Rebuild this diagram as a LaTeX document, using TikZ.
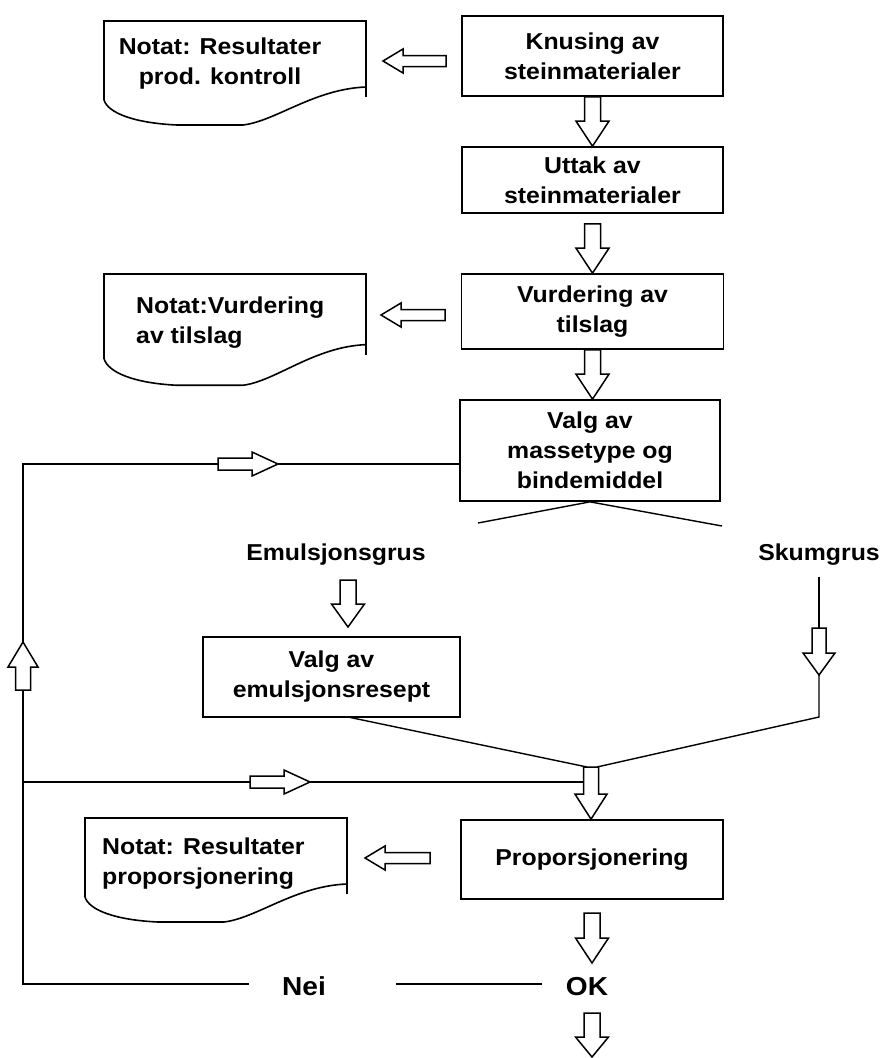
\documentclass[tikz,border=0pt]{standalone}
\usepackage{fontspec}
\setmainfont{Liberation Sans}[FakeStretch=1.08]
\usetikzlibrary{calc}
\newcommand\boxfont{\fontsize{23}{30}\selectfont\bfseries}
\newcommand\bigfont{\fontsize{26}{30}\selectfont\bfseries}
\tikzset{
  box/.style={draw, line width=1.7pt, align=center, inner sep=0pt, font=\boxfont},
  lbl/.style={inner sep=0pt, font=\boxfont},
  big/.style={inner sep=0pt, font=\bigfont},
  ln/.style={line width=1.4pt},
  blk/.style={draw, fill=white, line width=1.5pt, line join=miter},
  doc/.style={line width=1.6pt},
}
% block arrow: #1 tail, #2 tip, #3 shaft half width, #4 head half width, #5 head length
\newcommand\blockarrow[5]{%
  \draw[blk] ($(#1)!#3!90:(#2)$) -- ($($(#2)!#5!(#1)$)!#3!90:(#2)$) -- ($($(#2)!#5!(#1)$)!#4!90:(#2)$) -- (#2)
    -- ($($(#2)!#5!(#1)$)!#4!-90:(#2)$) -- ($($(#2)!#5!(#1)$)!#3!-90:(#2)$) -- ($(#1)!#3!-90:(#2)$) -- cycle;}
% note (document) shape: #1 x, #2 y of top-left, #3 yscale
\newcommand\notatshape[3]{%
  \begin{scope}[shift={(#1,#2)}, yscale=#3]
    \draw[doc] (0,79) -- (0,0) -- (262,0) -- (262,76);
    \draw[doc] (0,79) .. controls (4,92) and (30,102) .. (73,104) -- (139,104)
      .. controls (172,100) and (210,68) .. (262,66);
  \end{scope}}
\begin{document}
\begin{tikzpicture}[x=1pt, y=-1pt]
\useasboundingbox (0,0) rectangle (883,1058);

% process boxes
\node[box, minimum width=261pt, minimum height=80pt] (b1) at (592.5,56) {Knusing av\\steinmaterialer};
\node[box, minimum width=261pt, minimum height=66pt] (b2) at (592.5,180) {Uttak av\\steinmaterialer};
\node[box, minimum width=262pt, minimum height=75pt] (b3) at (592.5,311.5) {Vurdering av\\tilslag};
\node[box, minimum width=260pt, minimum height=101pt] (b4) at (590,450.5) {Valg av\\massetype og\\bindemiddel};
\node[box, minimum width=257pt, minimum height=80pt] (b5) at (331.5,677) {Valg av\\emulsjonsresept};
\node[box, minimum width=262pt, minimum height=79pt] (b6) at (592,859.5) {Proporsjonering};

% notes
\notatshape{104}{21}{1}
\notatshape{104}{274}{1.07}
\notatshape{85}{818}{1.0}
\node[lbl, align=center] (n1) at (220,64) {Notat: Resultater\\prod. kontroll};
\node[lbl, align=left, anchor=west] (n2) at (136,323) {Notat:Vurdering\\av tilslag};
\node[lbl, align=left, anchor=west] (n3) at (102,864) {Notat: Resultater\\proporsjonering};

% labels
\node[lbl] (emu) at (336,555) {Emulsjonsgrus};
\node[lbl] (skum) at (819,555) {Skumgrus};
\node[big] (nei) at (304,986) {Nei};
\node[big] (ok) at (587,987) {OK};

% coordinates
\coordinate (vl) at (478,523);
\coordinate (vr) at (722,526);
\coordinate (top) at (23,464);
\coordinate (cor) at (23,984);
\coordinate (mid) at (23,782);
\coordinate (midend) at (583,782);
\coordinate (neiL) at (249,984);
\coordinate (neiR) at (396,984);
\coordinate (okL) at (542,984);
\coordinate (e5) at (348,717);
\coordinate (mL) at (587,767);
\coordinate (mR) at (597,767);
\coordinate (m) at (591,767);
\coordinate (sk1) at (819,577);
\coordinate (sk2) at (819,628);
\coordinate (sk3) at (819,675);
\coordinate (sk4) at (819,717);

% lines
\draw[ln] (vl) -- (b4.south) -- (vr);
\draw[ln] (neiL) -- (cor) -- (top) -- (b4.west |- top);
\draw[ln] (mid) -- (midend);
\draw[ln] (neiR) -- (okL);
\draw[ln] (e5) -- (mL);
\draw[ln] (mR) -- (sk4) -- (sk3);
\draw[ln] (sk1) -- (sk2);

% block arrows (vertical)
\coordinate (a2s) at ($(b2.south)+(0,10)$);
\blockarrow{b1.south}{b2.north}{8pt}{16.5pt}{25pt}
\blockarrow{a2s}{b3.north -| a2s}{8pt}{16.5pt}{25pt}
\blockarrow{b3.south}{b3.south |- b4.north}{8pt}{16.5pt}{25pt}
\coordinate (ea) at (348,580);
\coordinate (eb) at (348,627);
\blockarrow{ea}{eb}{8pt}{16.5pt}{23pt}
\blockarrow{sk2}{sk3}{7pt}{16pt}{22pt}
\blockarrow{m}{m |- b6.north}{7.5pt}{16pt}{25pt}
\coordinate (oa) at (592,913);
\coordinate (ob) at (592,963);
\blockarrow{oa}{ob}{8pt}{16.5pt}{25pt}
\coordinate (fa) at (592,1013);
\coordinate (fb) at (592,1057);
\blockarrow{fa}{fb}{8pt}{16.5pt}{20pt}

% block arrows (horizontal, to notes)
\coordinate (h1a) at (446,61);  \coordinate (h1b) at (383,61);
\coordinate (h2a) at (445,315); \coordinate (h2b) at (381,315);
\coordinate (h3a) at (430,858); \coordinate (h3b) at (365,858);
\blockarrow{h1a}{h1b}{5.5pt}{12pt}{20pt}
\blockarrow{h2a}{h2b}{5.5pt}{12pt}{20pt}
\blockarrow{h3a}{h3b}{5.5pt}{12pt}{20pt}

% block arrows on loop lines
\coordinate (r1a) at (218,464); \coordinate (r1b) at (278,464);
\coordinate (r2a) at (250,782); \coordinate (r2b) at (310,782);
\coordinate (ua) at (23,690);   \coordinate (ub) at (23,642);
\blockarrow{r1a}{r1b}{6pt}{12pt}{26pt}
\blockarrow{r2a}{r2b}{6pt}{12pt}{26pt}
\blockarrow{ua}{ub}{7.5pt}{15pt}{25pt}
\end{tikzpicture}
\end{document}
